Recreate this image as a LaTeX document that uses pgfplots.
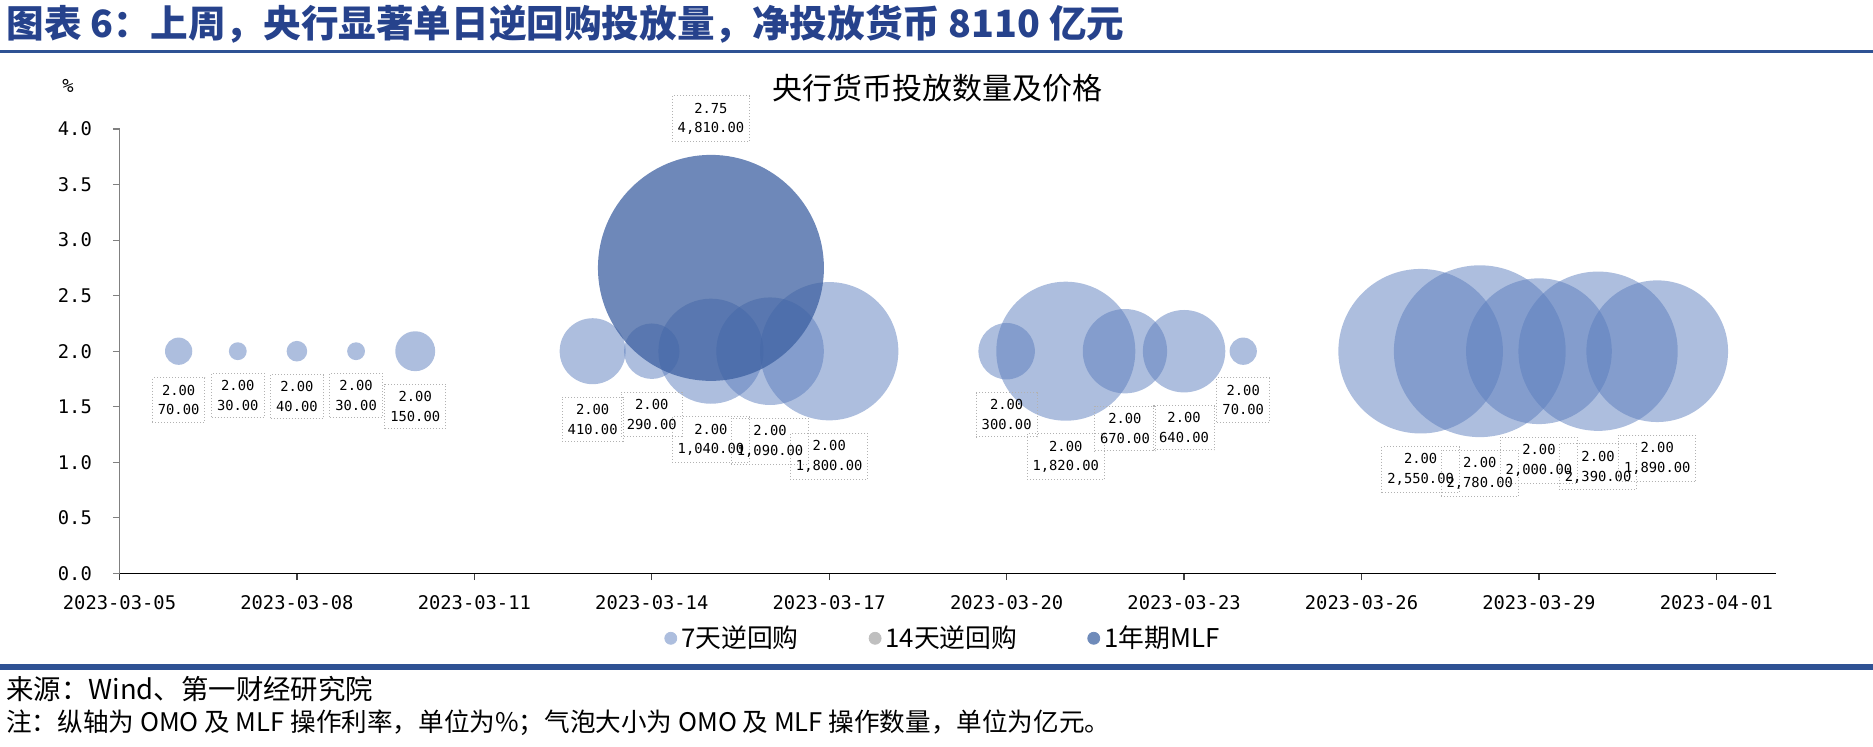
\documentclass[border=0pt]{standalone}
\usepackage{pgfplots}
\pgfplotsset{compat=1.18}
\usepackage{pgfplotstable}
\usepackage{fontspec}
\setmainfont{DejaVu Sans Mono}
\newfontfamily\cjk{Noto Sans CJK SC}
\definecolor{c7}{RGB}{91,125,189}
\definecolor{cmlf}{RGB}{60,95,160}
\definecolor{c7l}{RGB}{173,190,222}
\definecolor{c14}{RGB}{191,191,191}
\definecolor{cmlfl}{RGB}{111,139,186}
\definecolor{navy}{RGB}{38,66,140}
\definecolor{rulec}{RGB}{47,82,148}

% day index: 0 = 2023-03-05
\pgfplotstableread{
x y v
1 2 70
2 2 30
3 2 40
4 2 30
5 2 150
8 2 410
9 2 290
10 2 1040
11 2 1090
12 2 1800
15 2 300
16 2 1820
17 2 670
18 2 640
19 2 70
22 2 2550
23 2 2780
24 2 2000
25 2 2390
26 2 1890
}\sevenday
\pgfplotstableread{
x y v
10 2.75 4810
}\mlf

\tikzset{lbl/.style={draw=gray!60, densely dotted, line width=0.5pt, align=center,
  font=\fontsize{6.9}{9.9}\selectfont, inner xsep=2.75pt, inner ysep=3.5pt,
  text=black, fill opacity=1, text opacity=1, draw opacity=1}}
\pgfplotsset{
  bubble/.style={scatter, only marks, mark=*, forget plot,
    scatter/use mapped color={draw opacity=0, fill=#1},
    visualization depends on={56.5*sqrt(\thisrow{v}/4810) \as \rad},
    scatter/@pre marker code/.append style={/tikz/mark size=\rad}},
  bubblelabel/.style={only marks, mark=none, forget plot,
    visualization depends on={56.5*sqrt(\thisrow{v}/4810) \as \rad},
    visualization depends on={\thisrow{y} \as \rate},
    visualization depends on={\thisrow{v} \as \vol},
    nodes near coords={\pgfmathprintnumber[fixed,fixed zerofill,precision=2]{\rate}\\\pgfmathprintnumber[fixed,fixed zerofill,precision=2,1000 sep={,}]{\vol}}},
}

\begin{document}
\begin{tikzpicture}
\useasboundingbox (0pt,0pt) rectangle (936.5pt,373pt);
\node[anchor=west, font=\cjk\bfseries\fontsize{18.8}{22}\selectfont, text=navy, inner sep=0pt]
  at (3pt,361pt) {图表 6：上周，央行显著单日逆回购投放量，净投放货币 8110 亿元};
\draw[rulec, line width=1.5pt] (0pt,347pt) -- (936.5pt,347pt);

\begin{axis}[
  at={(59.75pt,86.3pt)}, anchor=south west,
  scale only axis, width=828pt, height=222.2pt,
  xmin=0, xmax=28, ymin=0, ymax=4,
  axis x line*=bottom, axis y line*=left,
  x axis line style={black, line width=0.6pt},
  y axis line style={gray, line width=0.75pt},
  tick align=outside, major tick length=3.3pt,
  xtick={0,3,...,27},
  xticklabels={2023-03-05,2023-03-08,2023-03-11,2023-03-14,2023-03-17,2023-03-20,2023-03-23,2023-03-26,2023-03-29,2023-04-01},
  ytick={0,0.5,1,1.5,2,2.5,3,3.5,4},
  yticklabel style={xshift=-7pt, /pgf/number format/fixed, /pgf/number format/fixed zerofill, /pgf/number format/precision=1},
  xticklabel style={yshift=-4pt},
  /pgf/number format/assume math mode=true,
  tick label style={font=\fontsize{9.4}{11}\selectfont},
  xtick style={black!75, line width=0.6pt}, ytick style={gray, line width=0.6pt},
  clip=false,
  legend style={at={(0.3288,-0.146)}, anchor=west, draw=none, fill=none,
    legend columns=3, font=\cjk\fontsize{12.9}{15}\selectfont, inner sep=0pt,
    /tikz/every even column/.append style={column sep=33pt}},
]
\addlegendimage{legend image code/.code={\fill[c7l] (3pt,0pt) circle (3pt);}}
\addlegendentry{7天逆回购}
\addlegendimage{legend image code/.code={\fill[c14] (3pt,0pt) circle (3pt);}}
\addlegendentry{14天逆回购}
\addlegendimage{legend image code/.code={\fill[cmlfl] (3pt,0pt) circle (3pt);}}
\addlegendentry{1年期MLF}

% bubbles
\addplot[bubble={c7, fill opacity=0.5}] table[x=x,y=y] {\sevenday};
\addplot[bubble={cmlf, fill opacity=0.74}] table[x=x,y=y] {\mlf};

% data labels
\addplot[bubblelabel,
  every node near coord/.append style={lbl, anchor=north, yshift={-(\rad+6.3)*1pt}}]
  table[x=x,y=y] {\sevenday};
\addplot[bubblelabel,
  every node near coord/.append style={lbl, anchor=south, yshift={(\rad+6.3)*1pt}}]
  table[x=x,y=y] {\mlf};
\end{axis}

\node[font=\cjk\fontsize{15}{18}\selectfont] at (468.9pt,328.8pt) {央行货币投放数量及价格};
\node[font=\fontsize{9.4}{11}\selectfont] at (34pt,330pt) {\%};

\draw[rulec, line width=3pt] (0pt,39.5pt) -- (936.5pt,39.5pt);
\node[anchor=west, font=\cjk\fontsize{13.7}{16}\selectfont, inner sep=0pt]
  at (3pt,28.5pt) {来源：Wind、第一财经研究院};
\node[anchor=west, font=\cjk\fontsize{12.8}{15}\selectfont, inner sep=0pt]
  at (3pt,11.7pt) {注：纵轴为 OMO 及 MLF 操作利率，单位为\%；气泡大小为 OMO 及 MLF 操作数量，单位为亿元。};
\end{tikzpicture}
\end{document}
